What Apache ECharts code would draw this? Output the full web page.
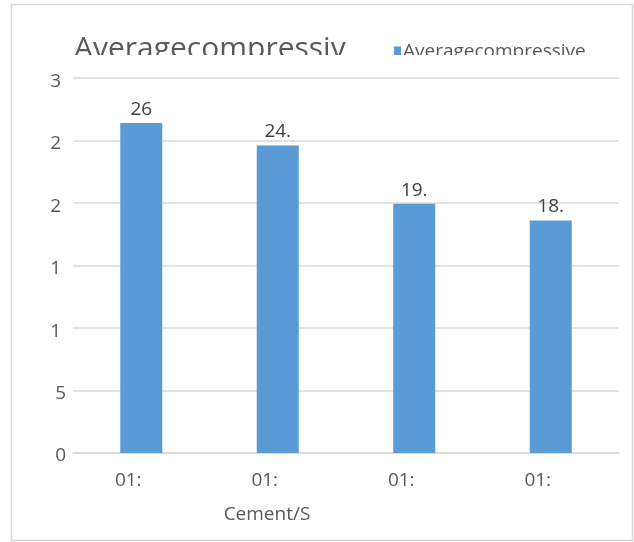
<!DOCTYPE html>
<html>
<head>
<meta charset="utf-8">
<script src="https://cdn.jsdelivr.net/npm/echarts@6/dist/echarts.min.js"></script>
<style>html,body{margin:0;padding:0;background:#fff;}#c{width:634px;height:542px;}</style>
</head>
<body>
<div id="c"></div>
<script>
// Data
const categories = ['01:', '01:', '01:', '01:'];
const seriesName = 'Averagecompressive';
const titleText = 'Averagecompressiv';
const values = [26.4, 24.6, 19.95, 18.6];
const valueLabels = ['26', '24.', '19.', '18.'];
const yTicks = [0, 5, 10, 15, 20, 25, 30];
const xAxisName = 'Cement/S';

const FONT = 'Open Sans';
const TXT = '#595959';

const chart = echarts.init(document.getElementById('c'));
chart.setOption({
  animation: false,
  backgroundColor: '#fff',
  title: {
    text: titleText,
    left: 69, top: 29,
    textStyle: { fontFamily: FONT, fontSize: 30, fontWeight: 'normal', color: TXT }
  },
  legend: {
    data: [seriesName],
    left: 389, top: 37,
    itemWidth: 7, itemHeight: 10, itemGap: 3,
    icon: 'rect',
    textStyle: { fontFamily: FONT, fontSize: 19, color: TXT, padding: [0,0,0,-3] }
  },
  grid: { left: 73, right: 15, top: 78, bottom: 89, containLabel: false },
  xAxis: {
    type: 'category',
    data: categories,
    axisLine: { lineStyle: { color: '#d9d9d9', width: 1.5 } },
    axisTick: { show: false },
    axisLabel: { fontFamily: FONT, fontSize: 19, color: TXT, margin: 18, padding: [0, 26, 0, 0] },
    name: xAxisName,
    nameLocation: 'middle',
    nameGap: 52,
    nameTextStyle: { fontFamily: FONT, fontSize: 19, color: TXT, padding: [0, 158, 0, 0] }
  },
  yAxis: {
    type: 'value',
    min: yTicks[0], max: yTicks[yTicks.length - 1], interval: yTicks[1] - yTicks[0],
    axisLine: { show: false },
    axisTick: { show: false },
    splitLine: { lineStyle: { color: '#d9d9d9', width: 1.5 } },
    axisLabel: {
      fontFamily: FONT, fontSize: 19, color: TXT, margin: 7,
      formatter: v => v >= 10 ? '{a|' + String(v)[0] + '}' : '{b|' + v + '}',
      rich: {
        a: { fontFamily: FONT, fontSize: 19, color: TXT, padding: [7, 5, 0, 0] },
        b: { fontFamily: FONT, fontSize: 19, color: TXT, padding: [6, 0, 0, 0] }
      }
    }
  },
  series: [{
    name: seriesName,
    type: 'bar',
    data: values,
    barWidth: 42,
    itemStyle: { color: '#5b9bd5' },
    label: {
      show: true, position: 'top', distance: 4,
      fontFamily: FONT, fontSize: 19, color: '#404040',
      formatter: p => valueLabels[p.dataIndex]
    }
  }],
  graphic: [
    { type: 'rect', shape: { x: 60, y: 55, width: 560, height: 14 }, style: { fill: '#fff' }, z: 100 },
    { type: 'rect', shape: { x: 11.5, y: 4.5, width: 621, height: 536 }, style: { fill: 'none', stroke: '#d9d9d9', lineWidth: 1.5 }, z: 100 }
  ]
});
</script>
</body>
</html>
